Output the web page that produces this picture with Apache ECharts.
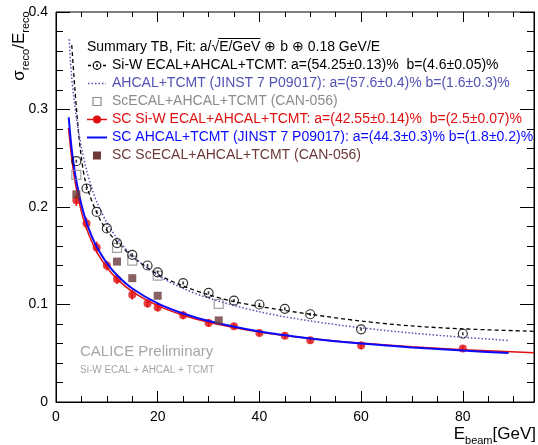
<!DOCTYPE html>
<html>
<head>
<meta charset="utf-8">
<script src="https://cdn.jsdelivr.net/npm/echarts@6/dist/echarts.min.js"></script>
<style>
html, body { margin: 0; padding: 0; background: #fff; }
#chart { width: 538px; height: 445px; }
</style>
</head>
<body>
<div id="chart"></div>
<script>
const siwE = [4, 6, 8, 10, 12, 15, 18, 20, 25, 30, 35, 40, 45, 50, 60, 80]
const siwRes = [0.247, 0.219, 0.195, 0.178, 0.163, 0.151, 0.140, 0.133, 0.122, 0.112, 0.104, 0.100, 0.0956, 0.090, 0.0745, 0.070]

const scecalE = [4, 12, 15, 20, 32]
const scecalRes = [0.233, 0.158, 0.145, 0.1296, 0.1007]

const scSiwE = [4, 6, 8, 10, 12, 15, 18, 20, 25, 30, 35, 40, 45, 50, 60, 80]
const scSiwRes = [0.207, 0.183, 0.1585, 0.140, 0.126, 0.110, 0.101, 0.097, 0.089, 0.081, 0.0776, 0.0707, 0.068, 0.0633, 0.058, 0.0548]
const scSiwErr = [0.006, 0.006, 0.006, 0.005, 0.005, 0.005, 0.004, 0.004, 0.004, 0.004, 0.003, 0.003, 0.003, 0.003, 0.004, 0.003]

const scScecalE = [4, 12, 15, 20, 32]
const scScecalRes = [0.213, 0.144, 0.127, 0.109, 0.0837]

// fit curves
const fitSiwE = [3.1, 3.7, 4.4, 5, 5.7, 6.7, 7.7, 9, 10.3, 12.3, 15, 20, 25, 30, 35, 40, 50, 60, 70, 80, 94]
const fitSiwRes = [0.366, 0.322, 0.278, 0.250, 0.228, 0.211, 0.198, 0.184, 0.174, 0.163, 0.149, 0.131, 0.119, 0.110, 0.103, 0.098, 0.090, 0.083, 0.078, 0.075, 0.0725]

const fitAhE = [2.6, 3, 3.5, 4, 5, 6, 7, 8, 10, 12, 15, 20, 25, 30, 40, 50, 60, 70, 80, 89]
const fitAhRes = [0.372, 0.338, 0.313, 0.292, 0.261, 0.238, 0.220, 0.2055, 0.184, 0.168, 0.150, 0.130, 0.1165, 0.1066, 0.0925, 0.0831, 0.0761, 0.0707, 0.0664, 0.0631]

const fitScSiwE = [2.45, 3, 3.5, 4, 5, 6, 7, 8, 10, 12, 15, 20, 25, 30, 40, 50, 60, 70, 80, 94]
const fitScSiwRes = [0.281, 0.254, 0.2345, 0.219, 0.195, 0.178, 0.165, 0.154, 0.138, 0.1263, 0.1133, 0.0988, 0.089, 0.0819, 0.0718, 0.0652, 0.0604, 0.0567, 0.0537, 0.0505]

const fitScAhE = [2.5, 3, 3.5, 4, 5, 6, 7, 8, 10, 12, 15, 20, 25, 30, 40, 50, 60, 70, 80, 89]
const fitScAhRes = [0.292, 0.2633, 0.243, 0.2267, 0.2022, 0.1842, 0.1704, 0.1593, 0.1424, 0.130, 0.1164, 0.1011, 0.0907, 0.0831, 0.0723, 0.0652, 0.060, 0.056, 0.0527, 0.0503]

const legendHeader = 'Summary TB, Fit: a/\u221AE/GeV \u2295 b \u2295 0.18 GeV/E'
const legendLabels = [
  'Si-W ECAL+AHCAL+TCMT: a=(54.25\u00B10.13)%  b=(4.6\u00B10.05)%',
  'AHCAL+TCMT (JINST 7 P09017): a=(57.6\u00B10.4)% b=(1.6\u00B10.3)%',
  'ScECAL+AHCAL+TCMT (CAN-056)',
  'SC Si-W ECAL+AHCAL+TCMT: a=(42.55\u00B10.14)%  b=(2.5\u00B10.07)%',
  'SC AHCAL+TCMT (JINST 7 P09017): a=(44.3\u00B10.3)% b=(1.8\u00B10.2)%',
  'SC ScECAL+AHCAL+TCMT (CAN-056)'
]

const FONT = 'Liberation Sans, Arial, Helvetica, sans-serif'
const BLACK = '#000'
const SLATE = '#5252b4'
const GRAY = '#8c8c8c'
const RED = '#e01010'
const BLUE = '#0a0aff'
const BROWN = '#6e3838'
const LEG_SIZE = 14

const pairs = (xs, ys) => xs.map((x, i) => [x, ys[i]])

// legend (drawn by hand, ROOT style)
const measure = (txt, size) => {
  const ctx = document.createElement('canvas').getContext('2d')
  ctx.font = size + 'px ' + FONT
  return ctx.measureText(txt).width
}
const lx = 87
const hy = 47
const rowY = [65.5, 83.5, 101.5, 119.5, 137.5, 155.5]
const textColors = [BLACK, SLATE, GRAY, RED, BLUE, BROWN]
const ovStart = lx + measure('Summary TB, Fit: a/\u221A', LEG_SIZE)
const ovEnd = lx + measure('Summary TB, Fit: a/\u221AE/GeV', LEG_SIZE)

const graphic = [
  { type: 'text', x: lx, y: hy, style: { text: legendHeader, font: LEG_SIZE + 'px ' + FONT, fill: BLACK, verticalAlign: 'middle' } },
  { type: 'line', shape: { x1: ovStart - 1, y1: hy - 8.5, x2: ovEnd, y2: hy - 8.5 }, style: { stroke: BLACK, lineWidth: 1 } },
  // row 1
  { type: 'line', shape: { x1: 88, y1: rowY[0], x2: 106, y2: rowY[0] }, style: { stroke: BLACK, lineWidth: 1.3, lineDash: [3, 2] } },
  { type: 'circle', shape: { cx: 97, cy: rowY[0], r: 3.8 }, style: { fill: '#fff', stroke: BLACK, lineWidth: 1.2 } },
  { type: 'rect', shape: { x: 96.2, y: rowY[0] - 1.2, width: 1.6, height: 2.4 }, style: { fill: BLACK } },
  // row 2
  { type: 'line', shape: { x1: 88, y1: rowY[1], x2: 106, y2: rowY[1] }, style: { stroke: SLATE, lineWidth: 1.5, lineDash: [1.5, 2] } },
  // row 3
  { type: 'rect', shape: { x: 93, y: rowY[2] - 4, width: 8, height: 8 }, style: { fill: '#fff', stroke: GRAY, lineWidth: 1.2 } },
  // row 4
  { type: 'line', shape: { x1: 87, y1: rowY[3], x2: 107, y2: rowY[3] }, style: { stroke: RED, lineWidth: 1.5 } },
  { type: 'circle', shape: { cx: 97, cy: rowY[3], r: 4 }, style: { fill: RED } },
  // row 5
  { type: 'line', shape: { x1: 87, y1: rowY[4], x2: 107, y2: rowY[4] }, style: { stroke: BLUE, lineWidth: 2 } },
  // row 6
  { type: 'rect', shape: { x: 93, y: rowY[5] - 4, width: 8, height: 8 }, style: { fill: BROWN } }
]
legendLabels.forEach((t, i) => {
  graphic.push({ type: 'text', x: 112, y: rowY[i], style: { text: t, font: LEG_SIZE + 'px ' + FONT, fill: textColors[i], verticalAlign: 'middle' } })
})
// watermark
graphic.push({ type: 'text', x: 80, y: 352, style: { text: 'CALICE Preliminary', font: '15px ' + FONT, fill: '#a6a6a6', verticalAlign: 'middle' } })
graphic.push({ type: 'text', x: 80, y: 370, style: { text: 'Si-W ECAL + AHCAL + TCMT', font: '10px ' + FONT, fill: '#a6a6a6', verticalAlign: 'middle' } })
// axis titles
graphic.push({
  type: 'text', x: 19, y: 46, rotation: Math.PI / 2,
  style: {
    text: '{m|\u03C3}{s|reco}{m|/E}{s|reco}', align: 'center', verticalAlign: 'middle',
    rich: {
      m: { fontSize: 17, fontFamily: FONT, fill: BLACK, lineHeight: 24, verticalAlign: 'middle' },
      s: { fontSize: 11, fontFamily: FONT, fill: BLACK, lineHeight: 24, verticalAlign: 'bottom' }
    }
  }
})
graphic.push({
  type: 'text', x: 536, y: 434,
  style: {
    text: '{m|E}{s|beam}{m|[GeV]}', align: 'right', verticalAlign: 'middle',
    rich: {
      m: { fontSize: 17, fontFamily: FONT, fill: BLACK, lineHeight: 24, verticalAlign: 'middle' },
      s: { fontSize: 11, fontFamily: FONT, fill: BLACK, lineHeight: 24, verticalAlign: 'bottom' }
    }
  }
})

const xCommon = {
  type: 'value', min: 0, max: 94,
  splitLine: { show: false },
  axisLine: { show: false, onZero: false },
  axisLabel: { show: false }
}
const yCommon = {
  type: 'value', min: 0, max: 0.4, interval: 0.1,
  splitLine: { show: false },
  axisLine: { show: true, onZero: false, lineStyle: { color: BLACK, width: 1 } },
  minorTick: { show: true, splitNumber: 5, length: 7, lineStyle: { color: BLACK } },
  axisTick: { inside: true, length: 14, lineStyle: { color: BLACK } }
}

const fitLine = (name, xs, ys, z, lineStyle) => ({
  name, type: 'line', data: pairs(xs, ys), showSymbol: false, symbol: 'none',
  smooth: 0.3, z, lineStyle
})

const option = {
  animation: false,
  backgroundColor: '#fff',
  textStyle: { fontFamily: FONT },
  grid: { left: 56, right: 4, top: 12, bottom: 43, show: true, borderColor: BLACK, borderWidth: 1 },
  xAxis: [
    {
      ...xCommon, position: 'bottom', interval: 20,
      axisLine: { show: true, onZero: false, lineStyle: { color: BLACK, width: 1 } },
      axisTick: { inside: true, length: 11, lineStyle: { color: BLACK } },
      axisLabel: { show: true, margin: 8, fontSize: 14, color: BLACK, fontFamily: FONT, showMaxLabel: false }
    },
    { ...xCommon, position: 'bottom', interval: 5, axisTick: { inside: true, length: 6, lineStyle: { color: BLACK } } },
    { ...xCommon, position: 'top', interval: 20, axisTick: { inside: true, length: 10, lineStyle: { color: BLACK } } },
    { ...xCommon, position: 'top', interval: 5, axisTick: { inside: true, length: 5, lineStyle: { color: BLACK } } }
  ],
  yAxis: [
    { ...yCommon, position: 'left', axisLabel: { margin: 8, fontSize: 14, color: BLACK, fontFamily: FONT } },
    { ...yCommon, position: 'right', axisLabel: { show: false } }
  ],
  graphic: graphic,
  series: [
    fitLine('fit Si-W', fitSiwE, fitSiwRes, 2, { color: BLACK, width: 1.3, type: [4, 3] }),
    fitLine('fit AHCAL', fitAhE, fitAhRes, 2, { color: SLATE, width: 1.5, type: [1.5, 2] }),
    fitLine('fit SC Si-W', fitScSiwE, fitScSiwRes, 2, { color: RED, width: 1.5 }),
    {
      name: 'SC Si-W errors', type: 'custom', z: 3,
      data: scSiwE.map((e, i) => [e, scSiwRes[i] - scSiwErr[i], scSiwRes[i] + scSiwErr[i]]),
      renderItem: (params, api) => {
        const lo = api.coord([api.value(0), api.value(1)])
        const hi = api.coord([api.value(0), api.value(2)])
        return {
          type: 'line',
          shape: { x1: lo[0], y1: lo[1], x2: hi[0], y2: hi[1] },
          style: { stroke: RED, lineWidth: 1.5 }
        }
      }
    },
    {
      name: 'SC Si-W', type: 'scatter', data: pairs(scSiwE, scSiwRes), symbol: 'circle', symbolSize: 8, z: 4,
      itemStyle: { color: RED }
    },
    fitLine('fit SC AHCAL', fitScAhE, fitScAhRes, 5, { color: BLUE, width: 2 }),
    {
      name: 'ScECAL', type: 'scatter', data: pairs(scecalE, scecalRes), symbol: 'rect', symbolSize: 9, z: 6,
      itemStyle: { color: 'rgba(255,255,255,0)', borderColor: GRAY, borderWidth: 1.2 }
    },
    {
      name: 'Si-W', type: 'scatter', data: pairs(siwE, siwRes), symbol: 'circle', symbolSize: 9, z: 6,
      itemStyle: { color: 'rgba(255,255,255,0)', borderColor: BLACK, borderWidth: 1.2 }
    },
    {
      name: 'Si-W centre', type: 'scatter', data: pairs(siwE, siwRes), symbol: 'rect', symbolSize: [1.6, 3], z: 6,
      itemStyle: { color: BLACK }
    },
    {
      name: 'SC ScECAL', type: 'scatter', data: pairs(scScecalE, scScecalRes), symbol: 'rect', symbolSize: 8, z: 7,
      itemStyle: { color: BROWN }
    }
  ]
}

const chart = echarts.init(document.getElementById('chart'))
chart.setOption(option)
</script>
</body>
</html>
